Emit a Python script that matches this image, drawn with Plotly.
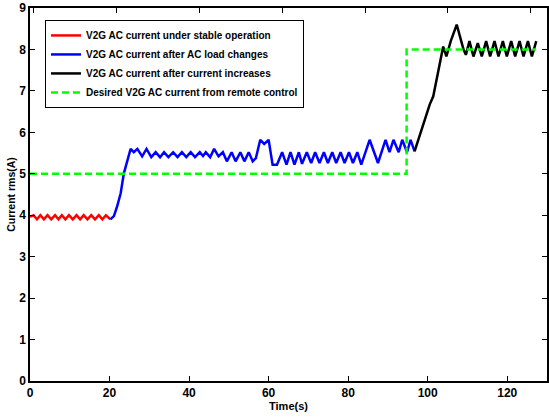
import plotly.graph_objects as go

# ---- data ----
red_t = [0, 0.9, 1.75, 2.6, 3.5, 4.4, 5.35, 6.3, 7.15, 8.0, 8.9, 9.8, 10.75, 11.7,
         12.6, 13.5, 14.45, 15.4, 16.35, 17.3, 18.2, 19.1, 20.2]
red_i = [3.96, 4.0, 3.9, 4.0, 3.9, 4.0, 3.9, 4.0, 3.9, 4.0, 3.9, 4.0, 3.9, 4.0,
         3.9, 4.0, 3.9, 4.0, 3.9, 4.0, 3.9, 4.0, 3.9]

blue_t = [20.2, 21.1, 21.9, 22.8, 23.6, 24.5, 25.3, 26.1, 27.0, 28.2, 29.3, 30.5, 31.6,
          32.7, 33.7, 34.8, 36.0, 37.1, 38.2, 39.3, 40.4, 41.5, 42.7, 43.5, 44.2, 45.3,
          46.3, 47.4, 48.5, 49.5, 50.7, 51.7, 52.9, 53.9, 55.0, 56.0, 56.8, 57.9, 58.9,
          60.0, 61.0, 62.1, 63.4, 64.5, 65.5, 66.5, 67.6, 68.4, 69.6, 70.7, 71.7, 72.8,
          73.9, 74.9, 76.0, 77.0, 78.1, 79.1, 80.2, 81.2, 82.3, 83.3, 85.4, 87.5, 89.4,
          90.4, 91.4, 92.7, 93.6, 94.8, 95.7, 96.7]
blue_i = [3.9, 3.98, 4.21, 4.53, 5.01, 5.34, 5.6, 5.52, 5.6, 5.42, 5.6, 5.4, 5.52,
          5.4, 5.52, 5.4, 5.52, 5.4, 5.52, 5.4, 5.52, 5.4, 5.52, 5.43, 5.52, 5.4,
          5.6, 5.42, 5.52, 5.3, 5.52, 5.3, 5.52, 5.3, 5.52, 5.3, 5.38, 5.82, 5.72,
          5.82, 5.22, 5.22, 5.52, 5.22, 5.52, 5.22, 5.52, 5.24, 5.52, 5.26, 5.52, 5.26,
          5.52, 5.26, 5.52, 5.26, 5.52, 5.26, 5.52, 5.26, 5.52, 5.22, 5.82, 5.26, 5.82,
          5.52, 5.82, 5.52, 5.82, 5.52, 5.82, 5.54]

black_t = [96.7, 98.0, 99.3, 100.5, 101.4, 102.2, 103.1, 103.9, 104.7, 105.8, 107.3,
           109.0, 109.6, 110.5, 111.5, 112.6, 113.6, 114.7, 115.7, 116.8, 117.8, 118.9,
           119.9, 121.0, 122.0, 123.1, 124.1, 125.2, 126.2, 127.3]
black_i = [5.54, 5.94, 6.3, 6.67, 6.87, 7.23, 7.63, 8.07, 7.83, 8.2, 8.6,
           8.0, 7.87, 8.2, 7.83, 8.15, 7.83, 8.2, 7.83, 8.2, 7.83, 8.2,
           7.83, 8.2, 7.83, 8.2, 7.83, 8.2, 7.83, 8.2]

green_t = [0, 94.7, 94.7, 127.2]
green_i = [5, 5, 8, 8]

x_ticks = [0, 20, 40, 60, 80, 100, 120]
y_ticks = [0, 1, 2, 3, 4, 5, 6, 7, 8, 9]

names = ["V2G AC current under stable operation",
         "V2G AC current after AC load changes",
         "V2G AC current after current increases",
         "Desired V2G AC current from remote control"]

FONT = "Liberation Sans Narrow, Arial Narrow, Liberation Sans, Arial, sans-serif"

fig = go.Figure()
fig.add_trace(go.Scatter(x=red_t, y=red_i, mode="lines", name=names[0],
                         line=dict(color="#ff0000", width=2.5)))
fig.add_trace(go.Scatter(x=blue_t, y=blue_i, mode="lines", name=names[1],
                         line=dict(color="#0000ff", width=2.5)))
fig.add_trace(go.Scatter(x=black_t, y=black_i, mode="lines", name=names[2],
                         line=dict(color="#000000", width=2.5)))
fig.add_trace(go.Scatter(x=green_t, y=green_i, mode="lines", name=names[3],
                         line=dict(color="#00ff00", width=2.5, dash="7px,4px")))
# carrier for the top tick axis
fig.add_trace(go.Scatter(x=[], y=[], xaxis="x2", showlegend=False, hoverinfo="skip"))

fig.update_layout(
    width=549, height=417,
    margin=dict(l=30, r=2, t=8, b=36),
    paper_bgcolor="white", plot_bgcolor="white",
    font=dict(family=FONT, size=11, color="black", weight="bold"),
    showlegend=True,
    legend=dict(x=0.029, y=0.968, xanchor="left", yanchor="top",
                bgcolor="white", bordercolor="black", borderwidth=1,
                font=dict(family=FONT, size=10, color="black", weight="bold"),
                tracegroupgap=0, itemwidth=30),
    xaxis=dict(range=[0, 130], tickvals=x_ticks, ticktext=[str(v) for v in x_ticks],
               ticks="inside", ticklen=5, tickcolor="black", tickwidth=1,
               showline=True, linecolor="black", linewidth=1.5, mirror=True,
               showgrid=False, zeroline=False, automargin=False,
               tickfont=dict(family=FONT, size=12, color="black", weight="bold"),
               title=dict(text="Time(s)", standoff=1,
                          font=dict(family=FONT, size=11, color="black", weight="bold"))),
    xaxis2=dict(range=[-0.86, 123.9], overlaying="x", side="top", anchor="y",
                tickvals=x_ticks, ticks="inside", ticklen=5, tickcolor="black",
                showticklabels=False, showline=False, showgrid=False, zeroline=False,
                automargin=False),
    yaxis=dict(range=[0, 9], tickvals=y_ticks, ticktext=[str(v) for v in y_ticks],
               ticks="inside", ticklen=5, tickcolor="black", tickwidth=1,
               showline=True, linecolor="black", linewidth=1.5, mirror="ticks",
               showgrid=False, zeroline=False, automargin=False,
               tickfont=dict(family=FONT, size=12, color="black", weight="bold"),
               title=dict(text="Current rms(A)", standoff=1,
                          font=dict(family=FONT, size=10.5, color="black", weight="bold"))),
)

fig.write_html("out.html", config={"displayModeBar": False},
               post_script="document.body.style.margin='0';document.body.style.padding='0';")
